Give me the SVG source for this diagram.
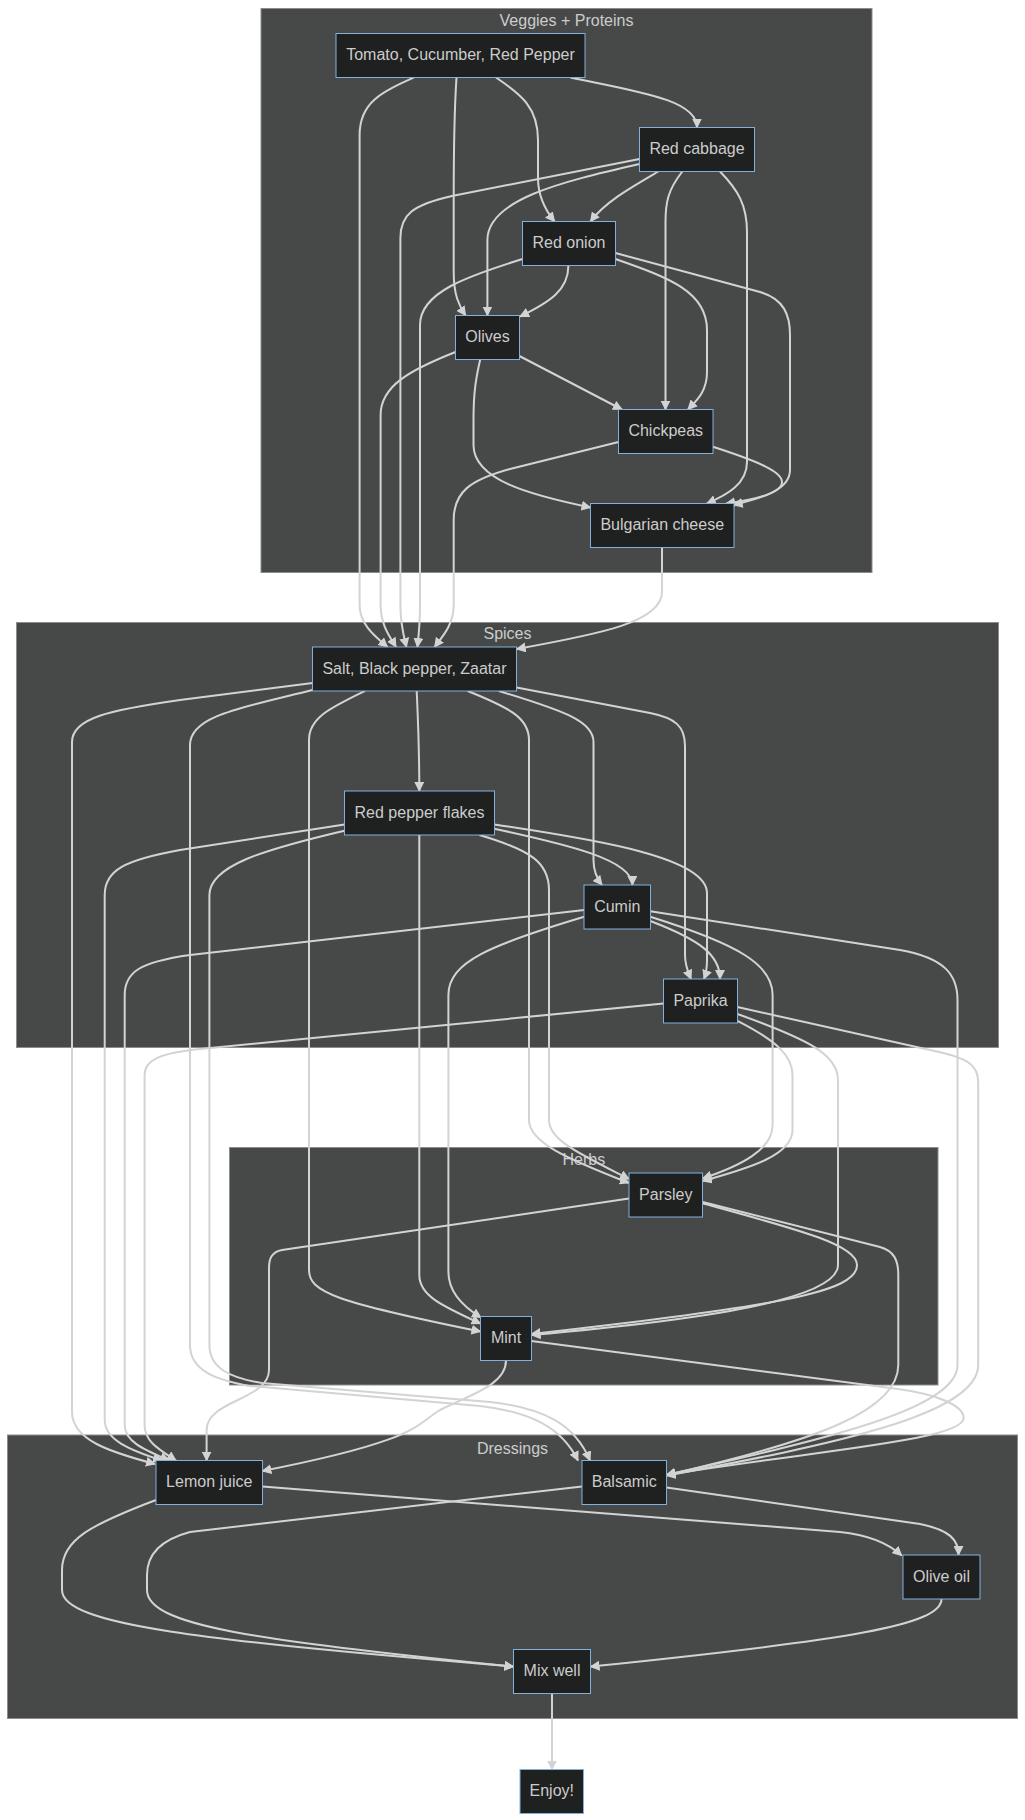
<svg xmlns="http://www.w3.org/2000/svg" width="1025" height="1820" viewBox="0 0 1025 1820">
<style>
.cluster rect{fill:#474949;stroke:#8c8c8c;stroke-width:1}
.ctitle{font-family:"Liberation Sans",Arial,sans-serif;font-size:16px;fill:#cccccc;text-anchor:middle}
.node rect{fill:#1f2020;stroke:#81B1DB;stroke-width:1}
.node text{font-family:"Liberation Sans",Arial,sans-serif;font-size:16px;fill:#cccccc;text-anchor:middle}
.edges path{fill:none;stroke:#d3d3d3;stroke-width:2;marker-end:url(#arrow)}
</style>
<defs>
<marker id="arrow" viewBox="0 0 10 10" refX="9" refY="5" markerUnits="userSpaceOnUse" markerWidth="10" markerHeight="10" orient="auto"><path d="M0,0 L10,5 L0,10 z" fill="#d3d3d3"/></marker>
</defs>
<rect x="0" y="0" width="1025" height="1820" fill="#ffffff"/>
<g id="cluster-veggies" class="cluster"><rect x="261" y="8.5" width="611" height="564"/><text class="ctitle" x="566.5" y="26">Veggies + Proteins</text></g>
<g id="cluster-spices" class="cluster"><rect x="16.5" y="622.5" width="982" height="425"/><text class="ctitle" x="507.5" y="639">Spices</text></g>
<g id="cluster-herbs" class="cluster"><rect x="229.5" y="1147.5" width="708.5" height="237.5"/><text class="ctitle" x="583.8" y="1165">Herbs</text></g>
<g id="cluster-dressings" class="cluster"><rect x="7.5" y="1435" width="1010" height="283.5"/><text class="ctitle" x="512.5" y="1453.5">Dressings</text></g>
<g id="connectors" class="edges">
<path d="M570.4,77.5 C640,92 697,100 697,127.5"/>
<path d="M496,77.5 C522,95 538,108 538,140 L538,178 C538,198 546,211 554.6,221.5"/>
<path d="M456.5,77.5 C454,115 453.7,150 453.7,200 L453.7,272 C453.7,295 459,306 465.6,315.5"/>
<path d="M414,77.5 C382,92 359.6,102 359.6,135 L359.6,605 C359.6,625 376,637 387.5,647"/>
<path d="M658.2,171.5 C630,188 605,202 590.5,221.5"/>
<path d="M639.5,164 C560,182 487.4,200 487.4,240 L487.4,315.5"/>
<path d="M682.3,171.5 C668,190 665.5,202 665.5,222 L665.5,409.5"/>
<path d="M720,171.5 C738,190 747,205 747,232 L747,462 C747,484 727,495 706.8,503.5"/>
<path d="M639.5,159 L452,196 C412,205 400.4,215 400.4,238 L400.4,605 C400.4,625 404,637 406.4,647"/>
<path d="M568.4,265.5 C568.4,290 550,302 520,316.5"/>
<path d="M615.4,259 C670,278 707,292 707,330 L707,372 C707,392 696,401 688,409.5"/>
<path d="M615.4,253 L760,292 C784,299 790,315 790,335 L790,470 C790,490 762,498 733.7,505"/>
<path d="M522.5,259 C468,276 420,292 420,325 L420,605 C420,625 418.5,637 417.4,647"/>
<path d="M519.4,356 L622,409.5"/>
<path d="M480.2,359.5 C476,378 473.5,392 473.5,420 L473.5,445 C473.5,480 530,495 590.5,507.5"/>
<path d="M455.5,352 C410,370 380.6,386 380.6,415 L380.6,605 C380.6,625 390,637 396,647"/>
<path d="M712.9,446.8 C760,462 782,472 782,482 C782,494 752,500 726,503.5"/>
<path d="M618.5,442 L510,469 C470,480 453.7,492 453.7,520 L453.7,605 C453.7,625 442,637 434.6,647"/>
<path d="M662,547.5 L662,592 C662,622 600,634 516.7,649"/>
<path d="M416.7,691 C418,720 419.3,745 419.3,791"/>
<path d="M498.8,691 C568,712 593.5,722 593.5,742 L593.5,860 C593.5,872 598,880 602,885"/>
<path d="M516.6,687.5 L650,713 C675,718 685,726 685,746 L685,955 C685,966 688,972 691,979"/>
<path d="M467.7,691 C510,708 529,718 529,740 L529,1120 C529,1142 565,1158 629,1183"/>
<path d="M365,691 C330,708 309,718 309,740 L309,1270 C309,1292 335,1302 480.5,1331.5"/>
<path d="M312.5,683 L180,700 C110,710 72,718 72,742 L72,1412 C72,1440 110,1452 155,1464"/>
<path d="M312.5,690 C240,708 190,716 190,745 L190,1345 C190,1370 215,1380 250,1386 L480,1406 C532,1412 562,1428 578,1460.5"/>
<path d="M494.3,828.7 C570,845 632.4,860 632.4,885"/>
<path d="M494.3,824.5 C600,840 707,858 707,893 L707,960 C707,970 705.5,975 704,979"/>
<path d="M479.4,835 C530,850 549,862 549,890 L549,1120 C549,1140 578,1153 629,1179"/>
<path d="M419.3,835 L419.3,1275 C419.3,1295 440,1305 480.5,1323.5"/>
<path d="M344.5,824.5 L180,850 C125,860 104.7,870 104.7,895 L104.7,1420 C104.7,1440 130,1450 162,1460.5"/>
<path d="M344.5,830.7 C262,850 209.4,866 209.4,895 L209.4,1345 C209.4,1368 230,1378 262,1383 L490,1402 C545,1408 575,1425 590,1460.5"/>
<path d="M650.3,921 C700,940 720,955 720,979"/>
<path d="M650.3,916.8 C740,945 772.6,965 772.6,995 L772.6,1125 C772.6,1150 740,1166 702.7,1178.5"/>
<path d="M584.2,916.8 C490,945 448.4,962 448.4,995 L448.4,1272 C448.4,1292 462,1306 481,1317.5"/>
<path d="M584.2,910 L190,955 C140,962 124.7,972 124.7,995 L124.7,1425 C124.7,1442 145,1450 169,1460.5"/>
<path d="M650.3,911.3 L900,950 C945,958 957.5,975 957.5,1000 L957.5,1365 C957.5,1410 820,1440 666.5,1475"/>
<path d="M737.4,1020.8 C775,1040 792.5,1055 792.5,1075 L792.5,1130 C792.5,1155 750,1168 702.7,1181"/>
<path d="M737.4,1014 C810,1040 838,1055 838,1080 L838,1265 C838,1300 700,1320 531.5,1335"/>
<path d="M663.5,1003.6 L200,1049 C160,1053 144.6,1060 144.6,1075 L144.6,1425 C144.6,1442 160,1450 176,1460.5"/>
<path d="M737.4,1007 L930,1050 C970,1058 978.2,1066 978.2,1082 L978.2,1365 C978.2,1415 830,1445 666.5,1475.5"/>
<path d="M702.7,1203.3 C800,1230 857,1245 857,1265 C857,1292 780,1306 531.5,1334"/>
<path d="M629,1198.5 L282,1250 C272,1252 269,1258 269,1268 L269,1370 C269,1400 206.6,1400 206.6,1430 L206.6,1460.5"/>
<path d="M702.7,1202 L880,1247 C894,1251 898.3,1260 898.3,1275 L898.3,1365 C898.3,1410 820,1440 666.5,1475"/>
<path d="M506,1360.5 C506,1385 470,1395 440,1410 C415,1425 420,1440 262.4,1471"/>
<path d="M531.4,1341 L898,1389 C935,1394 963.7,1405 963.7,1418 C963.7,1440 820,1450 666.5,1475"/>
<path d="M262.4,1486.4 L840,1532 C870,1535 890,1545 901.7,1555.5"/>
<path d="M156,1500 C90,1525 62,1540 62,1570 L62,1590 C62,1625 200,1640 513.4,1666.6"/>
<path d="M666.5,1487.5 L920,1524 C950,1530 958.5,1540 958.5,1555"/>
<path d="M582,1486.5 L190,1532 C160,1540 147,1555 147,1575 L147,1590 C147,1625 250,1640 513.4,1666.6"/>
<path d="M941.5,1599 C941.5,1625 850,1640 590.6,1666.6"/>
<path d="M552,1693.5 L552,1769.5"/>
</g>
<g id="node-tomato" class="node"><rect x="336" y="33.5" width="249" height="44"/><text x="460.5" y="60">Tomato, Cucumber, Red Pepper</text></g>
<g id="node-redcabbage" class="node"><rect x="639.5" y="127.5" width="115" height="44"/><text x="697" y="154">Red cabbage</text></g>
<g id="node-redonion" class="node"><rect x="522.5" y="221.5" width="93" height="44"/><text x="569" y="248">Red onion</text></g>
<g id="node-olives" class="node"><rect x="455.5" y="315.5" width="64" height="44"/><text x="487.5" y="342">Olives</text></g>
<g id="node-chickpeas" class="node"><rect x="618.5" y="409.5" width="94.5" height="44"/><text x="665.75" y="436">Chickpeas</text></g>
<g id="node-bulgarian" class="node"><rect x="590.5" y="503.5" width="143.5" height="44"/><text x="662.25" y="530">Bulgarian cheese</text></g>
<g id="node-salt" class="node"><rect x="312.5" y="647" width="204" height="44"/><text x="414.5" y="673.5">Salt, Black pepper, Zaatar</text></g>
<g id="node-rpf" class="node"><rect x="344.5" y="791" width="150" height="44"/><text x="419.5" y="817.5">Red pepper flakes</text></g>
<g id="node-cumin" class="node"><rect x="584" y="885" width="66.5" height="44"/><text x="617.25" y="911.5">Cumin</text></g>
<g id="node-paprika" class="node"><rect x="663.5" y="979" width="74" height="44"/><text x="700.5" y="1005.5">Paprika</text></g>
<g id="node-parsley" class="node"><rect x="629" y="1173" width="73.5" height="44"/><text x="665.75" y="1199.5">Parsley</text></g>
<g id="node-mint" class="node"><rect x="480.5" y="1316.5" width="51" height="44"/><text x="506" y="1343">Mint</text></g>
<g id="node-lemon" class="node"><rect x="156" y="1460.5" width="106.5" height="44"/><text x="209.25" y="1487">Lemon juice</text></g>
<g id="node-balsamic" class="node"><rect x="582" y="1460.5" width="84.5" height="44"/><text x="624.25" y="1487">Balsamic</text></g>
<g id="node-oliveoil" class="node"><rect x="903" y="1555" width="77" height="44"/><text x="941.5" y="1581.5">Olive oil</text></g>
<g id="node-mixwell" class="node"><rect x="513.5" y="1649.5" width="77" height="44"/><text x="552" y="1676">Mix well</text></g>
<g id="node-enjoy" class="node"><rect x="520" y="1769.5" width="63.5" height="44"/><text x="551.75" y="1796">Enjoy!</text></g>
</svg>
